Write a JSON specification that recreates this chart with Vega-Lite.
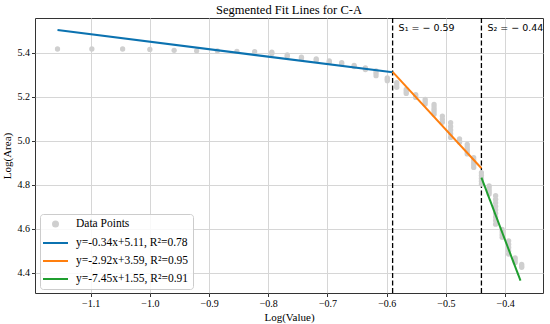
{
  "$schema": "https://vega.github.io/schema/vega-lite/v6.json",
  "width": 508,
  "height": 275,
  "autosize": "none",
  "padding": {"left": 35, "top": 18, "right": 7, "bottom": 31},
  "background": "white",
  "title": {"text": "Segmented Fit Lines for C-A", "font": "Liberation Serif", "fontSize": 12.5, "fontWeight": "normal", "color": "#000", "offset": 1},
  "config": {
    "view": {"stroke": "#333", "strokeWidth": 1},
    "axis": {"labelFont": "Liberation Serif", "labelFontSize": 10, "labelColor": "#000", "titleFont": "Liberation Serif", "titleFontSize": 11, "titleFontWeight": "normal", "titleColor": "#000", "gridColor": "#d6d6d6", "gridWidth": 1, "tickColor": "#333", "tickSize": 3.5, "domain": false, "labelPadding": 2}
  },
  "datasets": {
    "points": [
      {"x": -1.156, "y": 5.417}, {"x": -1.098, "y": 5.417}, {"x": -1.046, "y": 5.417}, {"x": -1.0, "y": 5.415},
      {"x": -0.959, "y": 5.411}, {"x": -0.921, "y": 5.409}, {"x": -0.886, "y": 5.409}, {"x": -0.853, "y": 5.406},
      {"x": -0.823, "y": 5.405},
      {"x": -0.794, "y": 5.403}, {"x": -0.794, "y": 5.397},
      {"x": -0.768, "y": 5.390}, {"x": -0.768, "y": 5.384},
      {"x": -0.744, "y": 5.380}, {"x": -0.744, "y": 5.374},
      {"x": -0.719, "y": 5.372}, {"x": -0.719, "y": 5.366},
      {"x": -0.697, "y": 5.363}, {"x": -0.697, "y": 5.357},
      {"x": -0.676, "y": 5.355}, {"x": -0.676, "y": 5.349},
      {"x": -0.655, "y": 5.343}, {"x": -0.655, "y": 5.337},
      {"x": -0.636, "y": 5.331}, {"x": -0.636, "y": 5.324},
      {"x": -0.618, "y": 5.317}, {"x": -0.618, "y": 5.307}, {"x": -0.618, "y": 5.296},
      {"x": -0.599, "y": 5.286}, {"x": -0.599, "y": 5.280}, {"x": -0.599, "y": 5.273},
      {"x": -0.583, "y": 5.264}, {"x": -0.583, "y": 5.254}, {"x": -0.583, "y": 5.243},
      {"x": -0.567, "y": 5.233}, {"x": -0.567, "y": 5.224}, {"x": -0.567, "y": 5.215},
      {"x": -0.551, "y": 5.210}, {"x": -0.551, "y": 5.204}, {"x": -0.551, "y": 5.197},
      {"x": -0.535, "y": 5.188}, {"x": -0.535, "y": 5.178}, {"x": -0.535, "y": 5.167},
      {"x": -0.520, "y": 5.165}, {"x": -0.520, "y": 5.154}, {"x": -0.520, "y": 5.143}, {"x": -0.520, "y": 5.132}, {"x": -0.520, "y": 5.121},
      {"x": -0.506, "y": 5.112}, {"x": -0.506, "y": 5.098}, {"x": -0.506, "y": 5.084},
      {"x": -0.492, "y": 5.082}, {"x": -0.492, "y": 5.065}, {"x": -0.492, "y": 5.049}, {"x": -0.492, "y": 5.032}, {"x": -0.492, "y": 5.015},
      {"x": -0.477, "y": 5.009}, {"x": -0.477, "y": 5.001}, {"x": -0.477, "y": 4.993},
      {"x": -0.464, "y": 4.983}, {"x": -0.464, "y": 4.972}, {"x": -0.464, "y": 4.961}, {"x": -0.464, "y": 4.950}, {"x": -0.464, "y": 4.940},
      {"x": -0.453, "y": 4.923}, {"x": -0.453, "y": 4.912}, {"x": -0.453, "y": 4.901}, {"x": -0.453, "y": 4.890}, {"x": -0.453, "y": 4.879},
      {"x": -0.440, "y": 4.855}, {"x": -0.440, "y": 4.842}, {"x": -0.440, "y": 4.829}, {"x": -0.440, "y": 4.816}, {"x": -0.440, "y": 4.803},
      {"x": -0.427, "y": 4.795}, {"x": -0.427, "y": 4.786}, {"x": -0.427, "y": 4.776}, {"x": -0.427, "y": 4.767}, {"x": -0.427, "y": 4.758},
      {"x": -0.416, "y": 4.750}, {"x": -0.416, "y": 4.734}, {"x": -0.416, "y": 4.718}, {"x": -0.416, "y": 4.702}, {"x": -0.416, "y": 4.686}, {"x": -0.416, "y": 4.670}, {"x": -0.416, "y": 4.654}, {"x": -0.416, "y": 4.637}, {"x": -0.416, "y": 4.621},
      {"x": -0.405, "y": 4.597}, {"x": -0.405, "y": 4.585}, {"x": -0.405, "y": 4.573}, {"x": -0.405, "y": 4.561},
      {"x": -0.394, "y": 4.545}, {"x": -0.394, "y": 4.530}, {"x": -0.394, "y": 4.515}, {"x": -0.394, "y": 4.500}, {"x": -0.394, "y": 4.485},
      {"x": -0.383, "y": 4.468}, {"x": -0.383, "y": 4.458}, {"x": -0.383, "y": 4.447},
      {"x": -0.372, "y": 4.438}, {"x": -0.372, "y": 4.431}, {"x": -0.372, "y": 4.425}
    ],
    "lines": [
      {"series": "y=-0.34x+5.11, R²=0.78", "x": -1.156, "y": 5.503},
      {"series": "y=-0.34x+5.11, R²=0.78", "x": -0.59, "y": 5.311},
      {"series": "y=-2.92x+3.59, R²=0.95", "x": -0.59, "y": 5.313},
      {"series": "y=-2.92x+3.59, R²=0.95", "x": -0.44, "y": 4.875},
      {"series": "y=-7.45x+1.55, R²=0.91", "x": -0.44, "y": 4.832},
      {"series": "y=-7.45x+1.55, R²=0.91", "x": -0.374, "y": 4.364}
    ],
    "breaks": [
      {"x": -0.59, "y": 5.511, "label": "S₁ = − 0.59"},
      {"x": -0.44, "y": 5.511, "label": "S₂ = − 0.44"}
    ]
  },
  "layer": [
    {
      "data": {"name": "breaks"},
      "mark": {"type": "rule", "color": "#000", "strokeWidth": 1.3, "strokeDash": [5, 2.5]},
      "encoding": {"x": {"field": "x", "type": "quantitative"}}
    },
    {
      "data": {"name": "points"},
      "mark": {"type": "point", "filled": true, "size": 28, "opacity": 1, "color": "#cfcfcf"},
      "encoding": {
        "x": {"field": "x", "type": "quantitative", "scale": {"domain": [-1.194, -0.336], "nice": false, "zero": false},
          "axis": {"title": "Log(Value)", "values": [-1.1, -1.0, -0.9, -0.8, -0.7, -0.6, -0.5, -0.4], "format": ".1f", "titlePadding": 3, "labelFont": "Liberation Serif", "labelFontSize": 10}},
        "y": {"field": "y", "type": "quantitative", "scale": {"domain": [4.308, 5.558], "nice": false, "zero": false},
          "axis": {"title": "Log(Area)", "values": [4.4, 4.6, 4.8, 5.0, 5.2, 5.4], "format": ".1f", "titlePadding": 5, "labelFont": "Liberation Serif", "labelFontSize": 10}},
        "color": {"datum": "Data Points", "type": "nominal"}
      }
    },
    {
      "data": {"name": "lines"},
      "mark": {"type": "line", "strokeWidth": 2},
      "encoding": {
        "x": {"field": "x", "type": "quantitative"},
        "y": {"field": "y", "type": "quantitative"},
        "color": {
          "field": "series", "type": "nominal",
          "scale": {
            "domain": ["Data Points", "y=-0.34x+5.11, R²=0.78", "y=-2.92x+3.59, R²=0.95", "y=-7.45x+1.55, R²=0.91"],
            "range": ["#cfcfcf", "#0b72b0", "#ff7f0e", "#1f9e2f"]
          },
          "legend": {
            "title": null, "orient": "none", "legendX": 5, "legendY": 196,
            "labelFont": "Liberation Serif", "labelFontSize": 11.5, "labelColor": "#000",
            "symbolSize": 100, "symbolStrokeWidth": 2, "symbolType": "stroke",
            "rowPadding": 6, "padding": 4, "labelOffset": 20,
            "strokeColor": "#cccccc", "fillColor": "rgba(255,255,255,0.85)", "cornerRadius": 3,
            "encode": {"symbols": {"update": {
              "shape": {"signal": "datum.value === 'Data Points' ? 'M-0.5,0A0.5,0.5,0,1,0,0.5,0A0.5,0.5,0,1,0,-0.5,0Z' : 'M-2.5,0H2.5'"},
              "fill": {"signal": "datum.value === 'Data Points' ? '#cfcfcf' : 'transparent'"},
              "stroke": {"signal": "datum.value === 'Data Points' ? 'transparent' : scale('color', datum.value)"},
              "x": {"value": 11.5}
            }}}
          }
        },
        "detail": {"field": "series"}
      }
    },
    {
      "data": {"name": "breaks"},
      "mark": {"type": "text", "align": "left", "baseline": "middle", "dx": 6, "font": "DejaVu Sans", "fontSize": 9.5, "color": "#000"},
      "encoding": {
        "x": {"field": "x", "type": "quantitative"},
        "y": {"field": "y", "type": "quantitative"},
        "text": {"field": "label"}
      }
    }
  ]
}
